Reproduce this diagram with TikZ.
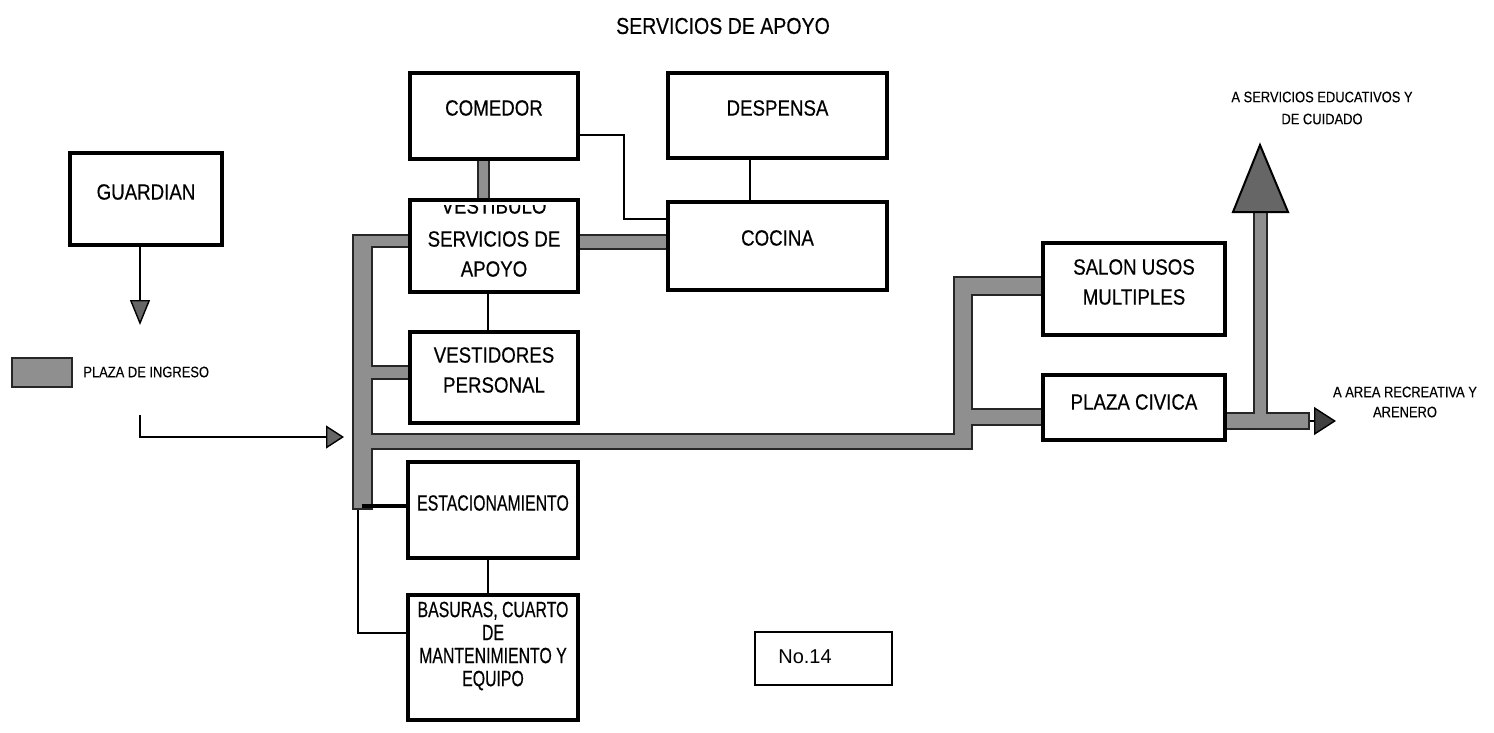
\documentclass[tikz,border=0pt]{standalone}
\usepackage{fontspec}
\setmainfont{Liberation Sans}
\newfontfamily\cond[FakeStretch=0.85,FakeBold=0.4]{Liberation Sans}
\newfontfamily\condx[FakeStretch=0.72,FakeBold=0.4]{Liberation Sans}
\newfontfamily\condsm[FakeStretch=0.85,FakeBold=0.2]{Liberation Sans}
\usetikzlibrary{arrows.meta}
\pgfdeclarelayer{bg}
\pgfsetlayers{bg,main}
\definecolor{bargray}{gray}{0.56}
\definecolor{headgray}{gray}{0.40}
\begin{document}
\begin{tikzpicture}[x=0.5pt,y=-0.5pt,
  box/.style={draw=black, line width=1.8pt, fill=white, inner sep=0pt},
  lbl/.style={font=\cond\fontsize{11}{15}\selectfont, align=center, inner sep=0pt},
  lblx/.style={font=\condx\fontsize{11}{11.5}\selectfont, align=center, inner sep=0pt},
  small/.style={font=\condsm\fontsize{7.6}{11}\selectfont, align=center, inner sep=0pt},
  conn/.style={draw=black, line width=1.3pt},
  fine/.style={draw=black, line width=0.7pt},
]
\useasboundingbox (0,0) rectangle (1494,733);

% title
\node[lbl, font=\cond\fontsize{11.5}{14}\selectfont] (title) at (723,26) {SERVICIOS DE APOYO};

% boxes
\node[box, minimum width=76pt, minimum height=46pt] (guardian) at (146,199) {};
\node[box, minimum width=84pt, minimum height=43pt] (comedor) at (494,116) {};
\node[box, minimum width=109.5pt, minimum height=42.5pt] (despensa) at (777.5,115.5) {};
\node[box, minimum width=84pt, minimum height=46pt] (vestibulo) at (494,246) {};
\node[box, minimum width=109.5pt, minimum height=44pt] (cocina) at (777.5,246) {};
\node[box, minimum width=84pt, minimum height=45.5pt] (vestidores) at (494,377.5) {};
\node[box, minimum width=85pt, minimum height=48pt] (estac) at (493,510) {};
\node[box, minimum width=85pt, minimum height=62.5pt] (basuras) at (493,657.5) {};
\node[box, minimum width=91pt, minimum height=46pt] (salon) at (1134,289) {};
\node[box, minimum width=91pt, minimum height=32.5pt] (plaza) at (1134,407.5) {};
\node[draw=black, line width=0.8pt, minimum width=68.5pt, minimum height=26.5pt, inner sep=0pt] (no14) at (823.5,658.5) {};
\node[fill=bargray, draw=black!85, line width=1pt, minimum width=30pt, minimum height=14.5pt, inner sep=0pt] (legend) at (42,372.5) {};

% box texts
\node[lbl] (t-guardian) at (146,192) {GUARDIAN};
\node[lbl] (t-comedor) at (494,108) {COMEDOR};
\node[lbl] (t-despensa) at (777.5,108) {DESPENSA};
\begin{scope}
  \clip (412,205) rectangle (576,290);
  \node[lbl] (t-vestibulo) at (494,206) {VESTIBULO};
\end{scope}
\node[lbl] (t-vestibulo2) at (494,254) {SERVICIOS DE\\APOYO};
\node[lbl] (t-cocina) at (777.5,238) {COCINA};
\node[lbl] (t-vestidores) at (494,370) {VESTIDORES\\PERSONAL};
\node[lblx] (t-estac) at (493,503) {ESTACIONAMIENTO};
\node[lblx] (t-basuras) at (493,646) {BASURAS, CUARTO\\DE\\MANTENIMIENTO Y\\EQUIPO};
\node[lbl] (t-salon) at (1134,282) {SALON USOS\\MULTIPLES};
\node[lbl] (t-plaza) at (1134,402) {PLAZA CIVICA};
\node[inner sep=0pt, font=\fontsize{10}{12}\selectfont] (t-no14) at (805,657) {No.14};
\node[small, anchor=west] (t-legend) at (83,372) {PLAZA DE INGRESO};
\node[small] (t-serv) at (1322,108) {A SERVICIOS EDUCATIVOS Y\\DE CUIDADO};
\node[small, font=\condsm\fontsize{7.6}{10}\selectfont] (t-area) at (1405,402) {A AREA RECREATIVA Y\\ARENERO};

% junction coordinates
\coordinate (bt) at (362,234);
\coordinate (bb) at (362,510);
\coordinate (j1) at (362,241);
\coordinate (j2) at (362,372);
\coordinate (j3) at (362,441);
\coordinate (j4) at (963,441);
\coordinate (rt) at (963,276);
\coordinate (rb) at (963,449.5);
\coordinate (j5) at (963,286);
\coordinate (j6) at (963,417);
\coordinate (j7) at (620,242);
\coordinate (j8) at (483,180);
\coordinate (j9) at (1240,421);
\coordinate (outend) at (1310,421);
\coordinate (shaftb) at (1260,430);
\coordinate (shaftt) at (1260,211);
\coordinate (outtip) at (1336,421);

% thick gray circulation bars (black edge pass, then gray pass)
\begin{pgfonlayer}{bg}
\foreach \pcol/\pw/\psh in {black!85/0/0, bargray/2/1}{
  \draw[\pcol, line width=10.5pt-\pw pt, shorten <=\psh pt, shorten >=\psh pt] (bt) -- (bb);
  \draw[\pcol, line width=7pt-\pw pt] (j1) -- (j1 -| vestibulo.west);
  \draw[\pcol, line width=7.5pt-\pw pt] (j2) -- (j2 -| vestidores.west);
  \draw[\pcol, line width=8.5pt-\pw pt] (j3) -- (j4);
  \draw[\pcol, line width=10pt-\pw pt, shorten <=\psh pt, shorten >=\psh pt] (rt) -- (rb);
  \draw[\pcol, line width=10pt-\pw pt] (j5) -- (j5 -| salon.west);
  \draw[\pcol, line width=9pt-\pw pt] (j6) -- (j6 -| plaza.west);
  \draw[\pcol, line width=8pt-\pw pt] (j7 -| vestibulo.east) -- (j7 -| cocina.west);
  \draw[\pcol, line width=6.5pt-\pw pt] (j8 |- comedor.south) -- (j8 |- vestibulo.north);
  \draw[\pcol, line width=9pt-\pw pt, shorten >=\psh pt] (j9 -| plaza.east) -- (outend);
  \draw[\pcol, line width=7.5pt-\pw pt, shorten <=\psh pt] (shaftb) -- (shaftt);
}
\end{pgfonlayer}

% big arrow head
\filldraw[fill=headgray, draw=black, line width=1pt] (1233,212) -- (1260,145) -- (1288,212) -- cycle;

% small right arrow
\draw[fine, -{Triangle[width=14pt, length=11pt, fill=black!75]}] (outend) -- (outtip);

% thin connectors
\coordinate (k1) at (624,135);
\coordinate (k2) at (624,219);
\draw[conn] (k1 -| comedor.east) -- (k1) -- (k2) -- (k2 -| cocina.west);
\coordinate (k3) at (750,180);
\draw[conn] (k3 |- despensa.south) -- (k3 |- cocina.north);
\coordinate (k4) at (488,310);
\draw[conn] (k4 |- vestibulo.south) -- (k4 |- vestidores.north);
\coordinate (k5) at (488,577);
\draw[conn] (k5 |- estac.south) -- (k5 |- basuras.north);
\coordinate (k6) at (358,510);
\coordinate (k7) at (358,633);
\draw[fine] (k6) -- (k7) -- (k7 -| basuras.west);
\coordinate (k8) at (362,506);
\draw[black, line width=2.2pt] (k8) -- (k8 -| estac.west);

% guardian arrow
\coordinate (g0) at (140,245);
\coordinate (g1) at (140,325);
\draw[fine, -{Triangle[width=10pt, length=12.5pt, fill=headgray]}] (g0 |- guardian.south) -- (g1);

% entrance arrow
\coordinate (l1) at (140,415);
\coordinate (l2) at (140,437);
\coordinate (l3) at (344,437);
\draw[fine, -{Triangle[width=11.5pt, length=9pt, fill=headgray]}] (l1) -- (l2) -- (l3);
\end{tikzpicture}
\end{document}
